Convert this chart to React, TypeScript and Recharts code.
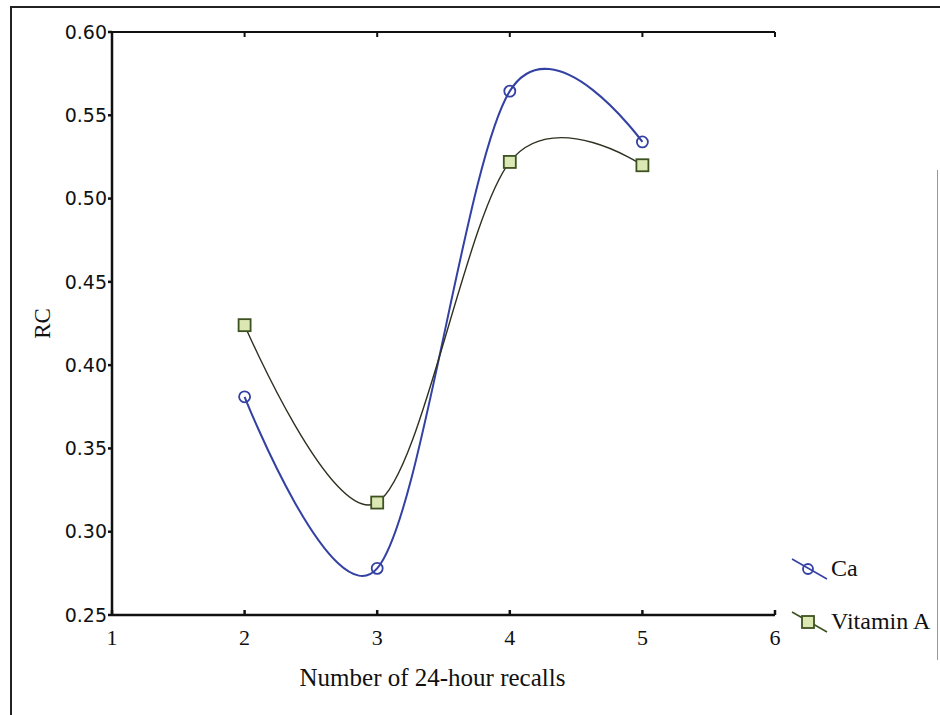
import React from "react";
import {
  LineChart,
  Line,
  XAxis,
  YAxis,
  Legend,
} from "recharts";

const recalls = [2, 3, 4, 5];
const caValues = [0.381, 0.278, 0.5645, 0.534];
const vitaminAValues = [0.424, 0.3175, 0.522, 0.52];
const xTicks = [1, 2, 3, 4, 5, 6];
const yTicks = [0.25, 0.3, 0.35, 0.4, 0.45, 0.5, 0.55, 0.6];

const data = recalls.map((n, i) => ({
  n,
  ca: caValues[i],
  vitA: vitaminAValues[i],
}));

const CA_COLOR = "#3341a3";
const VITA_LINE = "#2e3020";
const VITA_MARK = "#3d5220";
const SERIF = "'Liberation Serif', 'Times New Roman', serif";
const SANS = "'DejaVu Sans', 'Liberation Sans', sans-serif";

// cardinal (Catmull-Rom like) spline, same maths as d3's curveCardinal
function cardinalCurve(context: any) {
  const k = 1 / 6;
  let x0 = NaN, y0 = NaN, x1 = NaN, y1 = NaN, x2 = NaN, y2 = NaN;
  let pt = 0;
  const seg = (x: number, y: number) => {
    context.bezierCurveTo(
      x1 + k * (x2 - x0),
      y1 + k * (y2 - y0),
      x2 + k * (x1 - x),
      y2 + k * (y1 - y),
      x2,
      y2
    );
  };
  return {
    areaStart() {},
    areaEnd() {},
    lineStart() {
      x0 = x1 = x2 = y0 = y1 = y2 = NaN;
      pt = 0;
    },
    lineEnd() {
      if (pt === 2) context.lineTo(x2, y2);
      else if (pt === 3) seg(x1, y1);
    },
    point(x: number, y: number) {
      x = +x;
      y = +y;
      if (pt === 0) {
        pt = 1;
        context.moveTo(x, y);
      } else if (pt === 1) {
        pt = 2;
        x1 = x;
        y1 = y;
      } else {
        pt = 3;
        seg(x, y);
      }
      x0 = x1; x1 = x2; x2 = x;
      y0 = y1; y1 = y2; y2 = y;
    },
  };
}

// square marker for Vitamin A
function SquareDot(props: any) {
  const { cx, cy } = props;
  if (cx == null || cy == null) return null;
  return (
    <rect
      x={cx - 6}
      y={cy - 6}
      width={12}
      height={12}
      fill="#dbe8b4"
      stroke={VITA_MARK}
      strokeWidth={1.8}
    />
  );
}

function LegendBox() {
  const row = (label: string, marker: React.ReactNode, color: string) => (
    <div style={{ display: "flex", alignItems: "center", height: 53 }}>
      <svg width={40} height={26} style={{ flex: "none" }}>
        <line x1={2} y1={3} x2={37} y2={23} stroke={color} strokeWidth={1.6} />
        {marker}
      </svg>
      <span style={{ fontFamily: SERIF, fontSize: 24, color: "#111", marginLeft: 1, whiteSpace: "nowrap" }}>
        {label}
      </span>
    </div>
  );
  return (
    <div>
      {row(
        "Ca",
        <circle cx={18} cy={13} r={5} fill="none" stroke={CA_COLOR} strokeWidth={1.8} />,
        CA_COLOR
      )}
      {row(
        "Vitamin A",
        <rect x={12} y={7} width={12} height={12} fill="#dbe8b4" stroke={VITA_MARK} strokeWidth={1.8} />,
        VITA_MARK
      )}
    </div>
  );
}

export default function App() {
  return (
    <div style={{ position: "absolute", left: 0, top: 0, width: 940, height: 715, background: "#fff", overflow: "hidden" }}>
      {/* outer frame from the scan */}
      <div
        style={{
          position: "absolute",
          left: 10,
          top: 6,
          width: 940,
          height: 720,
          borderTop: "2px solid #222",
          borderLeft: "2px solid #222",
        }}
      />
      <div style={{ position: "absolute", left: 937, top: 170, width: 1, height: 490, background: "#999" }} />
      <LineChart
        width={940}
        height={715}
        data={data}
        margin={{ top: 32, right: 165, left: 10, bottom: 30 }}
      >
        <XAxis
          dataKey="n"
          type="number"
          domain={[1, 6]}
          ticks={xTicks}
          allowDataOverflow
          stroke="#111"
          strokeWidth={2.5}
          tickSize={-5}
          tickMargin={19}
          height={70}
          tick={{ fontFamily: SERIF, fontSize: 22, fill: "#111" }}
          label={{
            value: "Number of 24-hour recalls",
            position: "center",
            dx: -11,
            dy: 27,
            style: { fontFamily: SERIF, fontSize: 25, fill: "#111" },
          }}
        />
        <XAxis
          xAxisId="top"
          dataKey="n"
          type="number"
          orientation="top"
          domain={[1, 6]}
          ticks={xTicks}
          mirror
          stroke="#111"
          strokeWidth={2}
          tickSize={5}
          tickFormatter={() => ""}
        />
        <YAxis
          type="number"
          domain={[0.25, 0.6]}
          ticks={yTicks}
          allowDataOverflow
          width={102}
          stroke="#111"
          strokeWidth={2.5}
          tickSize={4}
          tickMargin={1}
          tickFormatter={(v: number) => v.toFixed(2)}
          tick={{ fontFamily: SANS, fontSize: 19, fill: "#111" }}
          label={{
            value: "RC",
            angle: -90,
            position: "center",
            dx: -19,
            style: { fontFamily: SERIF, fontSize: 23, fill: "#111" },
          }}
        />
        <YAxis
          yAxisId="right"
          type="number"
          orientation="right"
          domain={[0.25, 0.6]}
          ticks={yTicks}
          mirror
          width={0}
          stroke="#111"
          strokeWidth={2.5}
          tickSize={4}
          tickFormatter={() => ""}
        />
        <Legend
          layout="horizontal"
          align="center"
          verticalAlign="middle"
          content={() => <LegendBox />}
          wrapperStyle={{ left: 790, top: 542, width: 150, height: 110 }}
        />
        <Line
          type={cardinalCurve as any}
          dataKey="ca"
          name="Ca"
          stroke={CA_COLOR}
          strokeWidth={2}
          dot={{ r: 5.5, fill: "none", stroke: CA_COLOR, strokeWidth: 1.8 }}
          activeDot={false}
          isAnimationActive={false}
        />
        <Line
          type={cardinalCurve as any}
          dataKey="vitA"
          name="Vitamin A"
          stroke={VITA_LINE}
          strokeWidth={1.4}
          dot={<SquareDot />}
          activeDot={false}
          isAnimationActive={false}
        />
      </LineChart>
    </div>
  );
}
